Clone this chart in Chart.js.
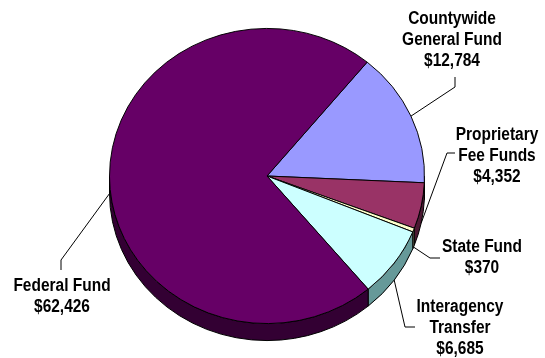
<!DOCTYPE html>
<html>
<head>
<meta charset="utf-8">
<script src="https://cdn.jsdelivr.net/npm/chart.js@4/dist/chart.umd.min.js"></script>
<style>
  html, body { margin: 0; padding: 0; background: #fff; }
  #wrap { width: 545px; height: 358px; }
</style>
</head>
<body>
<div id="wrap"><canvas id="pie" width="545" height="358"></canvas></div>
<script>
// data, clockwise from the Countywide slice
const fundNames = [
  ['Countywide', 'General Fund'],
  ['Proprietary', 'Fee Funds'],
  ['State Fund'],
  ['Interagency', 'Transfer'],
  ['Federal Fund'],
];
const fundValues = [12784, 4352, 370, 6685, 62426];
const topColors = ['#9999FF', '#993366', '#FFFFCC', '#CCFFFF', '#660066'];
const sideColors = ['#4C4C7F', '#4C1933', '#7F7F66', '#669999', '#330033'];

// where each label sits (text centre, first line y) and the leader bend
const labelPos = [
  { x: 452, y: 19, bend: [455, 87], end: [455, 77] },
  { x: 497, y: 135, bend: [447, 153], end: [455, 153] },
  { x: 482, y: 247, bend: [430, 258], end: [440, 258] },
  { x: 460, y: 307, bend: [405, 327], end: [415, 327] },
  { x: 62, y: 286, bend: [61, 260], end: [61, 270] },
];

const TILT = 0.937;   // y squash of the pie top
const DEPTH = 17;     // thickness of the pie
const NARROW = 0.86;  // labels are a condensed face

const fmt = (v) => '$' + v.toLocaleString('en-US');

const pie3d = {
  id: 'pie3d',
  beforeDatasetsDraw(chart) {
    const ctx = chart.ctx;
    const arcs = chart.getDatasetMeta(0).data;
    const cx = arcs[0].x, cy = arcs[0].y, r = arcs[0].outerRadius;
    // side walls: only the front half (0..PI in canvas angles)
    ctx.save();
    ctx.lineWidth = 1;
    ctx.strokeStyle = '#000';
    arcs.forEach((a, i) => {
      const ranges = [];
      for (let k = -1; k <= 1; k++) {
        const lo = Math.max(a.startAngle, k * 2 * Math.PI);
        const hi = Math.min(a.endAngle, k * 2 * Math.PI + Math.PI);
        if (hi > lo) ranges.push([lo, hi]);
      }
      ranges.forEach(([lo, hi]) => {
        ctx.beginPath();
        ctx.ellipse(cx, cy, r, r * TILT, 0, lo, hi, false);
        ctx.lineTo(cx + r * Math.cos(hi), cy + DEPTH + r * TILT * Math.sin(hi));
        ctx.ellipse(cx, cy + DEPTH, r, r * TILT, 0, hi, lo, true);
        ctx.closePath();
        ctx.fillStyle = sideColors[i];
        ctx.fill();
        ctx.stroke();
      });
    });
    ctx.restore();
    // squash the flat top into an ellipse
    ctx.save();
    ctx.translate(cx, cy);
    ctx.scale(1, TILT);
    ctx.translate(-cx, -cy);
  },
  afterDatasetsDraw(chart) {
    const ctx = chart.ctx;
    ctx.restore();
    const arcs = chart.getDatasetMeta(0).data;
    ctx.save();
    ctx.strokeStyle = '#000';
    ctx.lineWidth = 1;
    ctx.fillStyle = '#000';
    ctx.font = 'bold 18px "Liberation Sans", Arial, sans-serif';
    ctx.textAlign = 'center';
    ctx.textBaseline = 'middle';
    arcs.forEach((a, i) => {
      const mid = (a.startAngle + a.endAngle) / 2;
      const sx = a.x + a.outerRadius * Math.cos(mid);
      let sy = a.y + a.outerRadius * TILT * Math.sin(mid);
      if (Math.sin(mid) > -0.05) sy += DEPTH;
      const p = labelPos[i];
      ctx.beginPath();
      ctx.moveTo(sx, sy);
      ctx.lineTo(p.bend[0], p.bend[1]);
      ctx.lineTo(p.end[0], p.end[1]);
      ctx.stroke();
      const lines = fundNames[i].concat([fmt(fundValues[i])]);
      lines.forEach((t, j) => {
        ctx.save();
        ctx.translate(p.x, p.y + j * 21);
        ctx.scale(NARROW, 1);
        ctx.fillText(t, 0, 0);
        ctx.restore();
      });
    });
    ctx.restore();
  },
};

new Chart(document.getElementById('pie'), {
  type: 'pie',
  data: {
    labels: fundNames.map((n) => n.join(' ')),
    datasets: [{
      data: fundValues,
      backgroundColor: topColors,
      borderColor: '#000',
      borderWidth: 1,
    }],
  },
  options: {
    responsive: false,
    animation: false,
    rotation: 39.5,
    layout: { padding: { left: 109, right: 120, top: 18, bottom: 24 } },
    plugins: {
      legend: { display: false },
      tooltip: { enabled: false },
    },
    events: [],
  },
  plugins: [pie3d],
});
</script>
</body>
</html>
